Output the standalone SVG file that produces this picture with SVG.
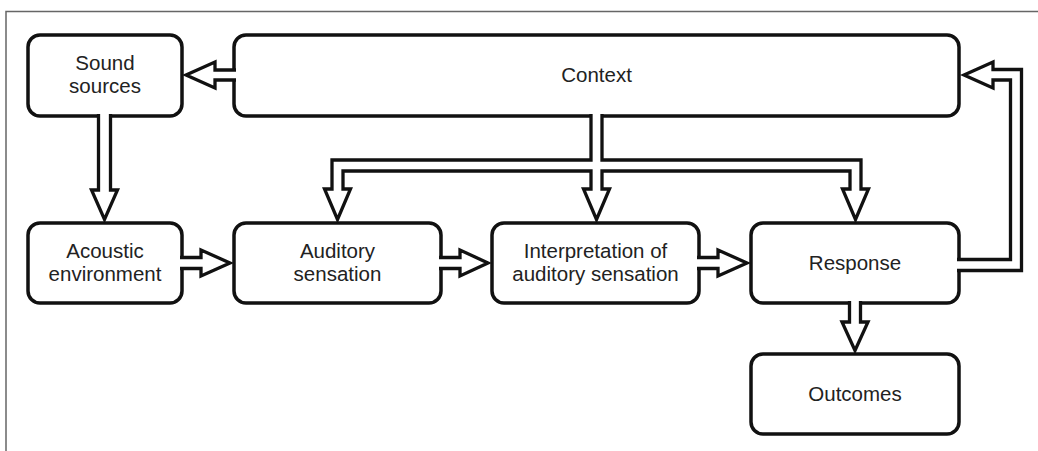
<svg xmlns="http://www.w3.org/2000/svg" width="1038" height="451" viewBox="0 0 1038 451">
<style>
.box{fill:#fff;stroke:#111;stroke-width:3.5}
.arr{fill:#fff;stroke:#111;stroke-width:3.3;stroke-linejoin:miter;stroke-miterlimit:10}
.lbl{font-family:"Liberation Sans",Arial,sans-serif;font-size:20.5px;fill:#222;text-anchor:middle}
.frame{stroke:#666;stroke-width:1.5;fill:none}
</style>
<rect width="1038" height="451" fill="#fff"/>
<path class="frame" d="M6,451 L6,11.5 L1038,11.5"/>
<g id="sound-sources"><rect class="box" x="28" y="35" width="154" height="81" rx="12"/><text class="lbl" x="105" y="70">Sound</text><text class="lbl" x="105" y="93">sources</text></g>
<g id="context"><rect class="box" x="234" y="35" width="725" height="81" rx="12"/><text class="lbl" x="596.5" y="82">Context</text></g>
<g id="acoustic-environment"><rect class="box" x="28" y="223" width="154" height="80" rx="12"/><text class="lbl" x="105" y="258">Acoustic</text><text class="lbl" x="105" y="281">environment</text></g>
<g id="auditory-sensation"><rect class="box" x="234" y="223" width="207" height="80" rx="12"/><text class="lbl" x="337.5" y="258">Auditory</text><text class="lbl" x="337.5" y="281">sensation</text></g>
<g id="interpretation"><rect class="box" x="492" y="223" width="207" height="80" rx="12"/><text class="lbl" x="595.5" y="258">Interpretation of</text><text class="lbl" x="595.5" y="281">auditory sensation</text></g>
<g id="response"><rect class="box" x="751" y="223" width="208" height="80" rx="12"/><text class="lbl" x="855" y="270">Response</text></g>
<g id="outcomes"><rect class="box" x="751" y="354" width="208" height="80" rx="12"/><text class="lbl" x="855" y="401">Outcomes</text></g>
<g id="connectors">
<path class="arr" d="M236,70 L215,70 L215,62 L186,75 L215,88 L215,80 L236,80"/>
<path class="arr" d="M98.5,114 L98.5,190 L91.5,190 L104.5,219.5 L117.5,190 L110.5,190 L110.5,114"/>
<path class="arr" d="M180,257.5 L201,257.5 L201,250 L230,263 L201,276 L201,268.5 L180,268.5"/>
<path class="arr" d="M439,257.5 L460,257.5 L460,250 L488,263 L460,276 L460,268.5 L439,268.5"/>
<path class="arr" d="M697,257.5 L718,257.5 L718,250 L747,263 L718,276 L718,268.5 L697,268.5"/>
<path class="arr" d="M849.5,301 L849.5,322 L842,322 L855,350.5 L868,322 L860.5,322 L860.5,301"/>
<path class="arr" d="M957,259.5 L1010.5,259.5 L1010.5,80 L993,80 L993,88 L964,75 L993,62 L993,69.5 L1021.5,69.5 L1021.5,270.5 L957,270.5"/>
<path class="arr" d="M591,114 L591,160 L332,160 L332,189 L324.5,189 L337.5,219.5 L350.5,189 L343,189 L343,171 L591,171 L591,189 L583.5,189 L596.5,219.5 L609.5,189 L602,189 L602,171 L850,171 L850,189 L842.5,189 L855.5,219.5 L868.5,189 L861,189 L861,160 L602,160 L602,114"/>
</g>
</svg>
